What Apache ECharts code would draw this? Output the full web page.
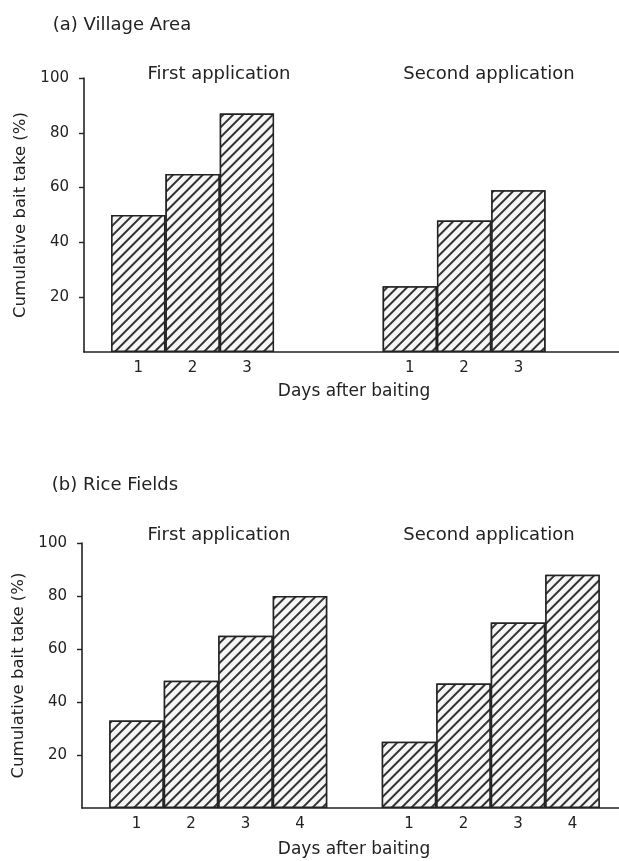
<!DOCTYPE html>
<html>
<head>
<meta charset="utf-8">
<script src="https://cdn.jsdelivr.net/npm/echarts@6/dist/echarts.min.js"></script>
<style>
  html, body { margin: 0; padding: 0; background: #fff; }
  #main { width: 619px; height: 861px; }
</style>
</head>
<body>
<div id="main"></div>
<script>
// (a) Village Area
var daysA = ['1', '2', '3'];
var firstA = [50, 65, 87];
var secondA = [24, 48, 59];
// (b) Rice Fields
var daysB = ['1', '2', '3', '4'];
var firstB = [33, 48, 65, 80];
var secondB = [25, 47, 70, 88];
var yTicks = [20, 40, 60, 80, 100];

var FONT = '"DejaVu Sans", Verdana, sans-serif';
var INK = '#222';

// 11 slots on the axis: empty, first group from slot 1, second group from slot 6
function slots(days, first, second) {
  var cats = [], vals = [];
  for (var i = 0; i < 11; i++) { cats.push(''); vals.push(null); }
  days.forEach(function (d, i) {
    cats[1 + i] = d; vals[1 + i] = first[i];
    cats[6 + i] = d; vals[6 + i] = second[i];
  });
  return { cats: cats, vals: vals };
}
var a = slots(daysA, firstA, secondA);
var b = slots(daysB, firstB, secondB);

function xAxisOf(idx, cats) {
  return {
    gridIndex: idx,
    type: 'category',
    boundaryGap: false,
    data: cats,
    axisLine: { lineStyle: { color: INK, width: 1.6 } },
    axisTick: { show: false },
    axisLabel: { margin: 9, fontSize: 15, color: INK, fontFamily: FONT, interval: 0 },
    splitLine: { show: false }
  };
}
function yAxisOf(idx) {
  return {
    gridIndex: idx,
    type: 'value',
    min: 0, max: 100, interval: 20,
    name: 'Cumulative bait take (%)',
    nameLocation: 'middle',
    nameGap: 55,
    nameTextStyle: { fontSize: 16.5, color: INK, fontFamily: FONT },
    axisLine: { show: true, lineStyle: { color: INK, width: 1.6 } },
    axisTick: { show: true, length: 5, customValues: yTicks, lineStyle: { color: INK, width: 1.4 } },
    axisLabel: { margin: 15, fontSize: 15, color: INK, fontFamily: FONT, customValues: yTicks },
    splitLine: { show: false }
  };
}
var hatch = {
  symbol: 'rect',
  symbolSize: 1,
  dashArrayX: [1, 0],
  dashArrayY: [1.1, 4.6],
  rotation: -Math.PI / 4,
  color: '#333',
  backgroundColor: '#f6f6f6'
};
function barsOf(idx, vals) {
  return {
    type: 'bar',
    xAxisIndex: idx,
    yAxisIndex: idx,
    data: vals,
    barWidth: '100%',
    silent: true,
    itemStyle: { color: '#f6f6f6', borderColor: INK, borderWidth: 1.5, decal: hatch }
  };
}
function txt(s, x, y, size) {
  return {
    type: 'text', x: x, y: y, silent: true,
    style: { text: s, font: size + 'px ' + FONT, fill: INK,
      textAlign: 'center', align: 'center', textVerticalAlign: 'middle', verticalAlign: 'middle' }
  };
}

var chart = echarts.init(document.getElementById('main'), null, { renderer: 'canvas' });
chart.setOption({
  animation: false,
  backgroundColor: '#fff',
  grid: [
    { left: 84, top: 78, width: 543, height: 274, outerBoundsMode: 'none' },
    { left: 82, top: 543, width: 545, height: 265, outerBoundsMode: 'none' }
  ],
  xAxis: [xAxisOf(0, a.cats), xAxisOf(1, b.cats)],
  yAxis: [yAxisOf(0), yAxisOf(1)],
  series: [barsOf(0, a.vals), barsOf(1, b.vals)],
  graphic: [
    txt('(a) Village Area', 122, 25, 18),
    txt('First application', 219, 74, 18),
    txt('Second application', 489, 74, 18),
    txt('Days after baiting', 354, 392, 17),
    txt('(b) Rice Fields', 115, 485, 18),
    txt('First application', 219, 535, 18),
    txt('Second application', 489, 535, 18),
    txt('Days after baiting', 354, 850, 17)
  ]
});
</script>
</body>
</html>
